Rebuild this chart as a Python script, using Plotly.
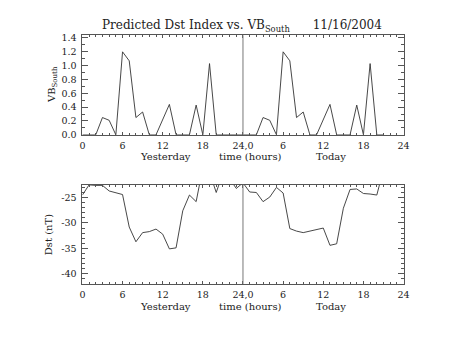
import plotly.graph_objects as go

# ---- data (hourly, yesterday 0..23, today 0..21) ----
hours_yesterday = list(range(0, 24))
hours_today = list(range(0, 22))
vb_yesterday = [0, 0, 0, 0.25, 0.21, 0, 1.20, 1.07, 0.25, 0.33, 0, 0,
                0.22, 0.44, 0, 0, 0, 0.43, 0, 1.03, 0, 0, 0, 0]
vb_today = [0, 0, 0, 0.25, 0.21, 0, 1.20, 1.07, 0.25, 0.33, 0, 0,
            0.22, 0.44, 0, 0, 0, 0.43, 0, 1.03, 0, 0]
dst_yesterday = [-24.5, -22.5, -22.6, -22.6, -23.7, -24.1, -24.4, -30.8, -33.7, -31.9,
                 -31.7, -31.2, -32.2, -35.1, -34.9, -27.6, -24.5, -25.8, -19.1, -20.0,
                 -24.0, -20.2, -21.3, -23.2]
dst_today = [-22.1, -23.9, -24.0, -25.8, -24.9, -23.0, -24.1, -31.1, -31.6, -31.9,
             -31.6, -31.2, -31.0, -34.4, -34.1, -27.1, -23.4, -23.3, -24.2, -24.3,
             -24.5, -19.4]
x_tickvals = [0, 6, 12, 18, 24, 30, 36, 42, 48]
x_ticktext = ["0", "6", "12", "18", "24,0", "6", "12", "18", "24"]
vb_ticks = [0.0, 0.2, 0.4, 0.6, 0.8, 1.0, 1.2, 1.4]
dst_ticks = [-25, -30, -35, -40]

t = hours_yesterday + [h + 24 for h in hours_today]
vb = vb_yesterday + vb_today
dst = dst_yesterday + dst_today

FONT = "DejaVu Serif"
INK = "#222222"
AXC = "#555555"
W, H = 453, 340

def px_x(p):
    return p / W

def px_y(p):
    return (H - p) / H

fig = go.Figure()
fig.add_trace(go.Scatter(x=t, y=vb, mode="lines", line=dict(color="#333333", width=0.9),
                         xaxis="x", yaxis="y", showlegend=False, hoverinfo="skip"))
fig.add_trace(go.Scatter(x=t, y=dst, mode="lines", line=dict(color="#333333", width=0.9),
                         xaxis="x2", yaxis="y2", showlegend=False, hoverinfo="skip"))

xdom = [px_x(81), px_x(408.7)]
ydom1 = [px_y(135), px_y(33)]
ydom2 = [px_y(287.7), px_y(186)]

def xaxis(anchor):
    return dict(domain=xdom, anchor=anchor, range=[0, 48], tickmode="array",
                tickvals=x_tickvals, ticktext=x_ticktext, ticks="inside", ticklen=3,
                tickcolor=AXC, showline=True, linecolor=AXC, linewidth=1,
                mirror="allticks", showgrid=False, zeroline=False,
                tickfont=dict(family=FONT, size=9.5, color=INK),
                minor=dict(dtick=1, tick0=0, ticks="inside", ticklen=2, tickcolor=AXC,
                           showgrid=False),
                ticklabelstandoff=2, fixedrange=True)

def yaxis(anchor, dom, rng, tickvals, fmt, dminor):
    return dict(domain=dom, anchor=anchor, range=rng, tickmode="array", tickvals=tickvals,
                ticktext=[fmt(v) for v in tickvals],
                ticks="inside", ticklen=6, tickcolor=AXC, showline=True,
                linecolor=AXC, linewidth=1, mirror="allticks", showgrid=False,
                zeroline=False, tickfont=dict(family=FONT, size=9.5, color=INK),
                minor=dict(dtick=dminor, ticks="inside", ticklen=3, tickcolor=AXC,
                           showgrid=False),
                ticklabelstandoff=3, fixedrange=True)

fig.update_layout(
    width=W, height=H, margin=dict(l=0, r=0, t=0, b=0),
    paper_bgcolor="white", plot_bgcolor="white",
    xaxis=xaxis("y"),
    yaxis=yaxis("x", ydom1, [0, 1.44], vb_ticks, lambda v: f"{v:.1f}", 0.1),
    xaxis2=xaxis("y2"),
    yaxis2=yaxis("x2", ydom2, [-42, -22.45], dst_ticks, lambda v: f"-{abs(v)}", 1),
)

# vertical separators at 24 h
for xr, yr in (("x", "y"), ("x2", "y2")):
    fig.add_shape(type="line", xref=xr, yref=yr + " domain", x0=24, x1=24, y0=0, y1=1,
                  line=dict(color="#777777", width=1))

ann_font = dict(family=FONT, size=10, color=INK)
# title
fig.add_annotation(text="Predicted Dst Index vs. VB<sub>South</sub>\u00a0\u00a0\u00a0\u00a0\u00a0\u00a011/16/2004",
                   xref="paper", yref="paper", x=px_x(99), y=px_y(24), xanchor="left",
                   yanchor="middle", showarrow=False,
                   font=dict(family=FONT, size=12, color=INK))
# x labels under each panel
for yc in (156.7, 310.7):
    for txt, xc in (("Yesterday", 165.7), ("time (hours)", 253), ("Today", 334.5)):
        fig.add_annotation(text=txt, xref="paper", yref="paper", x=px_x(xc), y=px_y(yc),
                           xanchor="center", yanchor="middle", showarrow=False, font=ann_font)
# y titles
fig.add_annotation(text="VB<sub>South</sub>", xref="paper", yref="paper", x=px_x(50),
                   y=px_y(84), textangle=-90, xanchor="center", yanchor="middle",
                   showarrow=False, font=ann_font)
fig.add_annotation(text="Dst (nT)", xref="paper", yref="paper", x=px_x(46.7),
                   y=px_y(237), textangle=-90, xanchor="center", yanchor="middle",
                   showarrow=False, font=ann_font)

fig.write_html("out.html")
